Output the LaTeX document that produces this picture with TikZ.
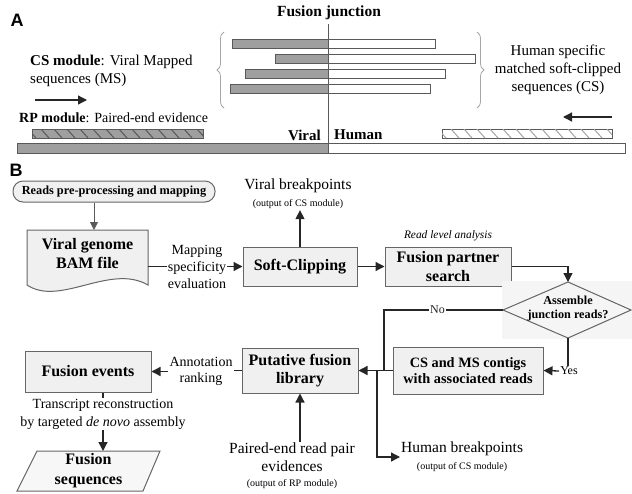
\documentclass[tikz,border=0pt]{standalone}
\usepackage{fontspec}
\setmainfont{Liberation Serif}
\newfontfamily\panelfont{Liberation Sans}
\usetikzlibrary{arrows.meta,decorations.pathreplacing}

\tikzset{
  box/.style={draw=black!60, fill=black!6, line width=1pt, align=center, inner sep=2pt,
    font=\fontsize{16}{18.5}\selectfont\bfseries},
  arr/.style={-{Triangle[length=9pt,width=9pt]}, line width=1.3pt, black!85},
  link/.style={line width=1.3pt, black!85},
  txt/.style={align=center, inner sep=1pt, font=\fontsize{15.5}{18}\selectfont},
  smalltxt/.style={align=center, inner sep=1pt, font=\fontsize{14}{17}\selectfont},
  bar/.style={draw=black!65, line width=0.8pt},
  brc/.style={draw=gray!70, line width=0.8pt, decorate, decoration={brace, amplitude=7pt}}
}
\newcommand{\outtxt}{\fontsize{10}{12}\selectfont}

\begin{document}
\begin{tikzpicture}[x=1pt, y=-1pt]
    \useasboundingbox (0,0) rectangle (632,493);

    % Panel A
    \node[font=\panelfont\fontsize{18}{20}\selectfont\bfseries] (lblA) at (17,20) {A};
    \node[font=\fontsize{15.5}{18}\selectfont\bfseries] (fj) at (329,13) {Fusion junction};

    % Soft-clipped reads across the junction
    \foreach \xl/\xr/\yt in {232/435/39, 275/475/54, 245/445/69, 230/430/84} {
        \filldraw[bar, fill=gray!75] (\xl,\yt) rectangle (328,\yt+9.5);
        \filldraw[bar, fill=white] (328,\yt) rectangle (\xr,\yt+9.5);
    }
    \draw[brc] (224,108) -- (224,32);
    \draw[brc] (477,32) -- (477,108);

    \node[anchor=west, align=left, inner sep=1pt, font=\fontsize{15}{18}\selectfont] (csmod) at (29,71)
        {\textbf{CS module}: Viral Mapped\\sequences (MS)};
    \node[txt, font=\fontsize{15}{18}\selectfont] (hscs) at (558,70)
        {Human specific\\matched soft-clipped\\sequences (CS)};

    % Paired-end evidence
    \draw[arr] (35,100) -- (87,100);
    \draw[arr] (612,117) -- (563,117);
    \node[anchor=west, inner sep=1pt, font=\fontsize{14}{17}\selectfont] (rpmod) at (18,118)
        {\textbf{RP module}: Paired-end evidence};
    \filldraw[bar, fill=gray!75] (32,129) rectangle (203,138);
    \begin{scope}
        \clip (32,129) rectangle (203,138);
        \foreach \hx in {28,41,...,210} \draw[black!65, line width=1pt] (\hx,129) -- (\hx+8,138);
    \end{scope}
    \filldraw[bar, fill=white] (442,129) rectangle (612,138);
    \begin{scope}
        \clip (442,129) rectangle (612,138);
        \foreach \hx in {438,451,...,620} \draw[gray!70, line width=1pt] (\hx,129) -- (\hx+8,138);
    \end{scope}

    % Genome
    \filldraw[bar, fill=gray!75] (17,143) rectangle (328,153);
    \filldraw[bar, fill=white] (328,143) rectangle (625,153);
    \draw[black!65, line width=1pt] (328,24) -- (328,153);
    \node[anchor=east, inner sep=1pt, font=\fontsize{15}{18}\selectfont\bfseries] (vir) at (322,135) {Viral};
    \node[anchor=west, inner sep=1pt, font=\fontsize{15}{18}\selectfont\bfseries] (hum) at (333,135) {Human};

    % Panel B
    \node[font=\panelfont\fontsize{18}{20}\selectfont\bfseries] (lblB) at (16,170) {B};
    \node[box, rounded corners=10pt, minimum width=202pt, minimum height=21pt,
        font=\fontsize{12.3}{14}\selectfont\bfseries] (reads) at (114,191.5) {Reads pre-processing and mapping};

    % BAM file (document shape)
    \filldraw[draw=black!60, fill=black!6, line width=1pt] (27,230) -- (148,230) -- (148,285)
        .. controls (110,263) and (60,307) .. (27,285) -- cycle;
    \node[align=center, inner sep=1pt, font=\fontsize{16}{19}\selectfont\bfseries] (doc) at (87.5,253.5)
        {Viral genome\\BAM file};
    \coordinate (docin) at (94,230);
    \coordinate (docout) at (148,266.5);

    \node[box, minimum width=114pt, minimum height=39pt] (soft) at (300,266.5) {Soft-Clipping};
    \node[box, minimum width=126pt, minimum height=39pt] (fps) at (448,266.5) {Fusion partner\\search};
    \node[inner sep=1pt, font=\fontsize{11.4}{13}\selectfont\itshape] (rla) at (448,236) {Read level analysis};
    \node[smalltxt] (mse) at (197,266.5) {Mapping\\specificity\\evaluation};
    \node[txt] (vb) at (298,194) {Viral breakpoints\\[-1pt]{\outtxt (output of CS module)}};

    % Decision
    \fill[black!4] (502,281) rectangle (632,339);
    \coordinate (dtop) at (568,282);
    \coordinate (dleft) at (503,310);
    \coordinate (dright) at (631,310);
    \coordinate (dbot) at (568,338);
    \filldraw[draw=black!60, fill=black!4, line width=1pt] (dtop) -- (dright) -- (dbot) -- (dleft) -- cycle;
    \node[align=center, inner sep=1pt, font=\fontsize{12.2}{14}\selectfont\bfseries] (asm) at (568,308.5)
        {Assemble\\junction reads?};
    \node[inner sep=1pt, font=\fontsize{12}{14}\selectfont] (yes) at (569,371) {Yes};

    \node[box, minimum width=150pt, minimum height=47pt, font=\fontsize{14.3}{16.5}\selectfont\bfseries]
        (cs) at (468,370.5) {CS and MS contigs\\with associated reads};
    \node[box, minimum width=116pt, minimum height=45pt] (put) at (300,370.5) {Putative fusion\\library};
    \node[box, minimum width=126pt, minimum height=41pt] (fev) at (88,371.5) {Fusion events};
    \node[smalltxt, font=\fontsize{14}{16}\selectfont] (ann) at (201,371) {Annotation\\ranking};
    \node[smalltxt, font=\fontsize{14}{18}\selectfont] (tr) at (103,414)
        {Transcript reconstruction\\by targeted \textit{de novo} assembly};
    \node[txt, anchor=west] (hbp) at (400,457) {Human breakpoints\\[-1pt]{\outtxt (output of CS module)}};
    \node[txt] (pe) at (292,466) {Paired-end read pair\\evidences\\[-3pt]{\outtxt (output of RP module)}};
    \coordinate (jn) at (384,370.5);
    \coordinate (hb0) at (377,370.5);

    % Fusion sequences (parallelogram)
    \filldraw[draw=black!60, fill=black!3, line width=1pt] (37,451) -- (160,451) -- (143,491) -- (17,491) -- cycle;
    \node[align=center, inner sep=1pt, font=\fontsize{16}{20}\selectfont\bfseries] (fseq) at (88.5,471)
        {Fusion\\sequences};
    \coordinate (fstop) at (103,451);

    % Connectors
    \draw[-{Triangle[length=8pt,width=8pt]}, line width=1pt, gray!70!black] (reads.south -| docin) -- (docin);
    \draw[link] (docout) -- (mse.west |- docout);
    \draw[arr] (mse.east |- soft.west) -- (soft.west);
    \draw[arr] (soft.north) -- (soft.north |- vb.south);
    \draw[arr] (soft.east) -- (fps.west);
    \draw[arr] (fps.east) -| (dtop);
    \draw[link] (dleft) -- node[pos=0.55, fill=white, inner sep=1pt, font=\fontsize{12}{14}\selectfont] (no) {No}
        (dleft -| jn) -- (jn);
    \draw[link] (dbot) -- (yes.north -| dbot);
    \draw[arr] (yes.west) -- (cs.east);
    \draw[arr] (cs.west) -- (put.east);
    \draw[arr] (hb0) |- (hbp.west);
    \draw[arr] (pe.north -| put.south) -- (put.south);
    \draw[link] (put.west) -- (ann.east |- put.west);
    \draw[arr] (ann.west |- fev.east) -- (fev.east);
    \draw[link] (tr.north |- fev.south) -- (tr.north);
    \draw[arr] (tr.south) -- (fstop);
\end{tikzpicture}
\end{document}
